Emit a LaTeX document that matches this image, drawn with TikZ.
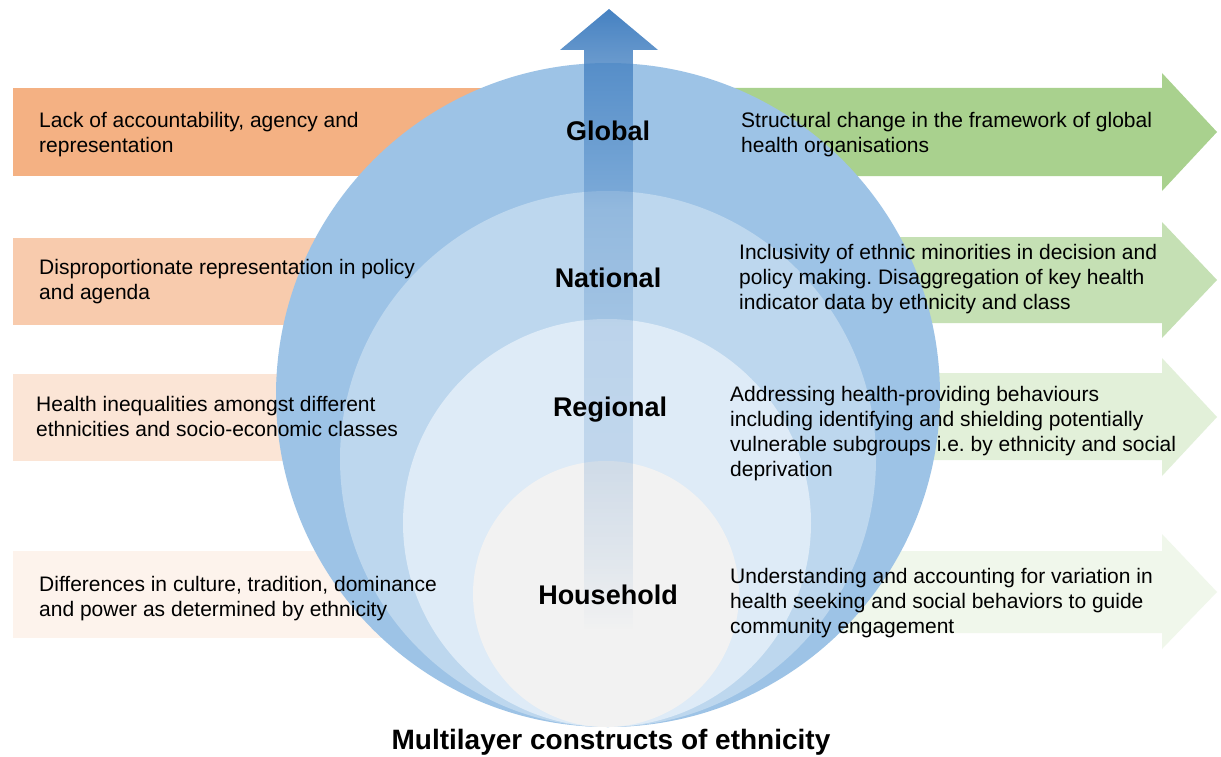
\documentclass[tikz,border=0pt]{standalone}
\usepackage{fontspec}
\setmainfont{Liberation Sans}
\usetikzlibrary{fadings}
\frenchspacing
\definecolor{orA}{HTML}{F4B183}
\definecolor{orB}{HTML}{F8CBAD}
\definecolor{orC}{HTML}{FBE5D6}
\definecolor{orD}{HTML}{FDF3EC}
\definecolor{grA}{HTML}{A9D18E}
\definecolor{grB}{HTML}{C5E0B4}
\definecolor{grC}{HTML}{E2F0D9}
\definecolor{grD}{HTML}{F0F7EB}
\definecolor{ciA}{HTML}{9DC3E6}
\definecolor{ciB}{HTML}{BDD7EE}
\definecolor{ciC}{HTML}{DEEBF7}
\definecolor{ciD}{HTML}{F2F2F2}
\definecolor{upblue}{HTML}{4682C2}
\tikzfading[name=fA, top color=transparent!0, bottom color=transparent!15]
\tikzfading[name=fB, top color=transparent!15, bottom color=transparent!40]
\tikzfading[name=fC, top color=transparent!40, bottom color=transparent!65]
\tikzfading[name=fD, top color=transparent!65, bottom color=transparent!78]
\tikzfading[name=fE, top color=transparent!78, bottom color=transparent!81]
\tikzfading[name=fF, top color=transparent!81, bottom color=transparent!90]
\tikzfading[name=fG, top color=transparent!90, bottom color=transparent!100]
\begin{document}
\begin{tikzpicture}[x=1pt,y=-1pt,
  lbox/.style={rectangle, anchor=west, inner sep=0pt, minimum width=597pt, minimum height=87pt},
  circ/.style={circle, inner sep=0pt, draw=none},
  txt/.style={anchor=north west, align=left, inner sep=0pt, font=\fontsize{21}{25}\selectfont},
  lvl/.style={inner sep=0pt, font=\bfseries\fontsize{27}{30}\selectfont},
  shaft/.style={fill=upblue}]
\useasboundingbox (0,0) rectangle (1221,757);
\fill[white] (0,0) rectangle (1221,757);
% left boxes
\node[lbox, fill=orA] (b1) at (13,132) {};
\node[lbox, fill=orB] (b2) at (13,281) {};
\node[lbox, fill=orC] (b3) at (13,417) {};
\node[lbox, fill=orD] (b4) at (13,594) {};
% right arrows
\fill[grA] (640,88) -- (1162,88) -- (1162,73) -- (1217,132) -- (1162,191) -- (1162,176) -- (640,176) -- cycle;
\fill[grB] (640,237) -- (1162,237) -- (1162,222) -- (1217,280) -- (1162,338) -- (1162,323) -- (640,323) -- cycle;
\fill[grC] (640,373) -- (1162,373) -- (1162,358) -- (1217,417) -- (1162,476) -- (1162,460) -- (640,460) -- cycle;
\fill[grD] (640,551) -- (1162,551) -- (1162,534) -- (1217,592) -- (1162,649) -- (1162,633) -- (640,633) -- cycle;
% circles
\node[circ, fill=ciA, minimum size=664pt] (cglobal) at (608,395) {};
\node[circ, fill=ciB, minimum size=536pt] (cnational) at (608,459) {};
\node[circ, fill=ciC, minimum size=408pt] (cregional) at (607,523) {};
\node[circ, fill=ciD, minimum size=266pt] (chouse) at (606,594) {};
% upward arrow (head and fading shaft)
\fill[shaft, path fading=fA] (609,9) -- (658,50) -- (560,50) -- cycle;
\fill[shaft, path fading=fB] (584,50) rectangle (633,130);
\fill[shaft, path fading=fC] (584,130) rectangle (633,210);
\fill[shaft, path fading=fD] (584,210) rectangle (633,330);
\fill[shaft, path fading=fE] (584,330) rectangle (633,470);
\fill[shaft, path fading=fF] (584,470) rectangle (633,560);
\fill[shaft, path fading=fG] (584,560) rectangle (633,630);
% level labels
\node[lvl] (lglobal) at (608,131) {Global};
\node[lvl] (lnational) at (608,278) {National};
\node[lvl] (lregional) at (610,410) {Regional};
\node[lvl] (lhouse) at (608,595) {Household};
% left texts
\node[txt] (t1) at (39,112) {Lack of accountability, agency and\\representation};
\node[txt] (t2) at (39,259) {Disproportionate representation in policy\\and agenda};
\node[txt] (t3) at (36,396) {Health inequalities amongst different\\ethnicities and socio-economic classes};
\node[txt] (t4) at (39,576) {Differences in culture, tradition, dominance\\and power as determined by ethnicity};
% right texts
\node[txt] (r1) at (741,112) {Structural change in the framework of global\\health organisations};
\node[txt] (r2) at (739,244) {Inclusivity of ethnic minorities in decision and\\policy making. Disaggregation of key health\\indicator data by ethnicity and class};
\node[txt] (r3) at (730,386) {Addressing health-providing behaviours\\including identifying and shielding potentially\\vulnerable subgroups i.e. by ethnicity and social\\deprivation};
\node[txt] (r4) at (730,568) {Understanding and accounting for variation in\\health seeking and social behaviors to guide\\community engagement};
% title
\node[inner sep=0pt, font=\bfseries\fontsize{28}{32}\selectfont] (title) at (611,742) {Multilayer constructs of ethnicity};
\end{tikzpicture}
\end{document}
